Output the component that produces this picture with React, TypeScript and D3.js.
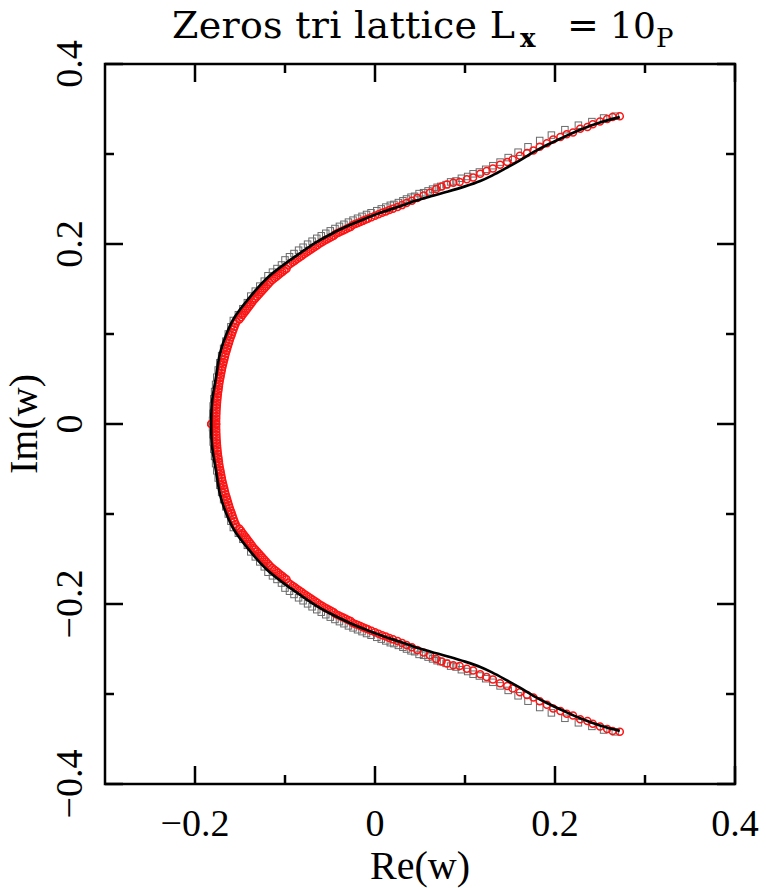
import React, { useEffect, useRef } from 'react';
import * as d3 from 'd3';

// upper half (Im > 0); lower half is the complex conjugate
const curveUpper: [number, number][] = [
  [-0.182, 0.0], [-0.181, 0.025], [-0.177, 0.05], [-0.172, 0.079], [-0.165, 0.1],
  [-0.157, 0.117], [-0.139, 0.141], [-0.12, 0.162], [-0.1, 0.178], [-0.083, 0.19],
  [-0.065, 0.202], [-0.047, 0.212], [-0.028, 0.221], [-0.009, 0.229], [0.01, 0.236],
  [0.028, 0.242], [0.045, 0.248], [0.062, 0.253], [0.08, 0.258], [0.1, 0.264],
  [0.117, 0.27], [0.13, 0.276], [0.145, 0.284], [0.161, 0.293], [0.176, 0.302],
  [0.191, 0.31], [0.21, 0.319], [0.228, 0.327], [0.25, 0.335], [0.272, 0.341],
];

const circlesUpper: [number, number][] = [
  [-0.182, 0.0],
  [-0.1765, 0.0], [-0.1765, 0.003], [-0.1764, 0.006], [-0.1764, 0.009], [-0.1762, 0.012],
  [-0.1761, 0.015], [-0.1759, 0.018], [-0.1757, 0.021], [-0.1755, 0.024], [-0.1752, 0.027],
  [-0.1749, 0.03], [-0.1746, 0.033], [-0.1742, 0.036], [-0.1738, 0.039], [-0.1734, 0.042],
  [-0.173, 0.045], [-0.1725, 0.048], [-0.1719, 0.051], [-0.1714, 0.054], [-0.1708, 0.057],
  [-0.1702, 0.06], [-0.1696, 0.063], [-0.1689, 0.066], [-0.1682, 0.069], [-0.1674, 0.072],
  [-0.1667, 0.075], [-0.1659, 0.078], [-0.165, 0.081], [-0.1642, 0.084], [-0.1633, 0.087],
  [-0.1623, 0.09], [-0.1614, 0.093], [-0.1604, 0.096], [-0.1593, 0.099], [-0.1583, 0.102],
  [-0.1572, 0.105], [-0.1561, 0.108], [-0.1549, 0.111], [-0.1538, 0.114],
  [-0.1508, 0.1161], [-0.1488, 0.1185], [-0.1472, 0.1211], [-0.1454, 0.1233], [-0.1436, 0.1257],
  [-0.1418, 0.1281], [-0.14, 0.1305], [-0.1382, 0.1329], [-0.1364, 0.1353], [-0.1346, 0.1377],
  [-0.133, 0.1395], [-0.131, 0.1417], [-0.129, 0.1439], [-0.127, 0.1461], [-0.125, 0.1483],
  [-0.123, 0.1505], [-0.121, 0.1527], [-0.119, 0.1549], [-0.117, 0.1571],
  [-0.1144, 0.1597], [-0.1121, 0.1616], [-0.1098, 0.1634], [-0.1075, 0.1653], [-0.1052, 0.1671],
  [-0.1029, 0.1689], [-0.1006, 0.1708], [-0.0983, 0.1726],
  [-0.0965, 0.1762], [-0.094, 0.178], [-0.0915, 0.1797], [-0.089, 0.1815], [-0.0865, 0.1833],
  [-0.084, 0.185], [-0.0815, 0.1868],
  [-0.079, 0.1887], [-0.0765, 0.1903], [-0.074, 0.192], [-0.0715, 0.1937], [-0.069, 0.1953],
  [-0.0665, 0.197], [-0.064, 0.1987],
  [-0.0614, 0.2006], [-0.0588, 0.202], [-0.0562, 0.2035], [-0.0536, 0.2049], [-0.051, 0.2064],
  [-0.0484, 0.2078], [-0.0458, 0.2092],
  [-0.0433, 0.2113], [-0.0406, 0.2126], [-0.0379, 0.2139], [-0.0352, 0.2151], [-0.0325, 0.2164],
  [-0.0298, 0.2177], [-0.0271, 0.219],
  [-0.0247, 0.221], [-0.0219, 0.2222], [-0.0191, 0.2233], [-0.0163, 0.2245], [-0.0135, 0.2257],
  [-0.0107, 0.2269], [-0.0079, 0.2281],
  [-0.004, 0.2298], [0.0, 0.2314], [0.004, 0.233], [0.008, 0.2346], [0.012, 0.2362],
  [0.016, 0.2377], [0.02, 0.2393], [0.025, 0.2412], [0.03, 0.2432], [0.035, 0.2455],
  [0.041, 0.248], [0.047, 0.251], [0.054, 0.254], [0.061, 0.257], [0.068, 0.261],
  [0.074, 0.264], [0.08, 0.266], [0.087, 0.268], [0.094, 0.269], [0.102, 0.272],
  [0.109, 0.274], [0.117, 0.278], [0.124, 0.281], [0.131, 0.284], [0.139, 0.288],
  [0.147, 0.291], [0.153, 0.294], [0.161, 0.298], [0.169, 0.301], [0.176, 0.304],
  [0.183, 0.308], [0.191, 0.312], [0.198, 0.316], [0.206, 0.319], [0.213, 0.322],
  [0.22, 0.324], [0.228, 0.328], [0.236, 0.33], [0.242, 0.333], [0.25, 0.336],
  [0.258, 0.339], [0.264, 0.341], [0.272, 0.342],
];

const squaresUpper: [number, number][] = [
  [-0.1805, 0.004], [-0.1802, 0.012], [-0.1798, 0.02], [-0.1791, 0.028], [-0.1782, 0.036],
  [-0.1771, 0.044], [-0.1758, 0.052], [-0.1742, 0.06], [-0.1724, 0.068], [-0.1704, 0.076],
  [-0.1682, 0.084], [-0.1657, 0.092], [-0.163, 0.1], [-0.1601, 0.108], [-0.1574, 0.115],
  [-0.1518, 0.1214], [-0.1468, 0.1281], [-0.1418, 0.1348],
  [-0.138, 0.1421], [-0.133, 0.1476], [-0.128, 0.1532], [-0.123, 0.1587],
  [-0.1189, 0.1647], [-0.1139, 0.1687], [-0.1089, 0.1727], [-0.1039, 0.1767],
  [-0.1, 0.1823], [-0.095, 0.1858], [-0.09, 0.1894],
  [-0.0849, 0.1931], [-0.0799, 0.1964], [-0.0749, 0.1998], [-0.0699, 0.2031],
  [-0.0647, 0.2063], [-0.0597, 0.2091], [-0.0547, 0.2119], [-0.0497, 0.2146],
  [-0.0445, 0.2172], [-0.0395, 0.2196], [-0.0345, 0.2219], [-0.0295, 0.2243],
  [-0.0244, 0.2265], [-0.0194, 0.2286], [-0.0144, 0.2307], [-0.0094, 0.2328], [-0.0044, 0.2347],
  [0.002, 0.237], [0.007, 0.239], [0.012, 0.241], [0.017, 0.243], [0.021, 0.244],
  [0.026, 0.246], [0.031, 0.248], [0.035, 0.25], [0.04, 0.252], [0.044, 0.253],
  [0.049, 0.256], [0.054, 0.257], [0.059, 0.259], [0.064, 0.261], [0.069, 0.263],
  [0.073, 0.264], [0.079, 0.266], [0.084, 0.269], [0.09, 0.27], [0.096, 0.273],
  [0.103, 0.275], [0.109, 0.278], [0.116, 0.28], [0.123, 0.283], [0.131, 0.287],
  [0.139, 0.291], [0.148, 0.296], [0.159, 0.302], [0.17, 0.308], [0.183, 0.315],
  [0.196, 0.321], [0.211, 0.327], [0.226, 0.332], [0.241, 0.336], [0.254, 0.34],
  [0.267, 0.342],
];

const xMajor = [-0.2, 0, 0.2, 0.4];
const xMinor = [-0.1, 0.1, 0.3];
const yMajor = [-0.4, -0.2, 0, 0.2, 0.4];
const yMinor = [-0.3, -0.1, 0.1, 0.3];

const conj = (pts: [number, number][]) => pts.map(([a, b]) => [a, -b] as [number, number]);
const fmt = (v: number) => (v === 0 ? '0' : (v < 0 ? '\u2212' : '') + Math.abs(v).toFixed(1));

const App = () => {
  const ref = useRef<SVGSVGElement>(null);

  useEffect(() => {
    const svg = d3.select(ref.current);
    svg.selectAll('*').remove();

    const W = 766, H = 888;
    const margin = { top: 64, right: 31, bottom: 104, left: 105 };
    const x = d3.scaleLinear().domain([-0.3, 0.4]).range([margin.left, W - margin.right]);
    const y = d3.scaleLinear().domain([-0.4, 0.4]).range([H - margin.bottom, margin.top]);
    const font = '"Liberation Serif", serif';
    const tfont = '"DejaVu Serif", serif';

    // squares
    const sq = 6.5;
    const squares = squaresUpper.concat(conj(squaresUpper));
    svg.append('g').selectAll('rect').data(squares).enter().append('rect')
      .attr('x', d => x(d[0]) - sq / 2)
      .attr('y', d => y(d[1]) - sq / 2)
      .attr('width', sq).attr('height', sq)
      .attr('fill', 'none').attr('stroke', '#6a6a6a').attr('stroke-width', 1);

    // circles
    const circles = circlesUpper.concat(conj(circlesUpper));
    svg.append('g').selectAll('circle').data(circles).enter().append('circle')
      .attr('cx', d => x(d[0]))
      .attr('cy', d => y(d[1]))
      .attr('r', 3.5)
      .attr('fill', 'none').attr('stroke', '#ff1414').attr('stroke-width', 1.5);

    // curve
    const full = conj(curveUpper).reverse().concat(curveUpper.slice(1));
    const line = d3.line<[number, number]>().x(d => x(d[0])).y(d => y(d[1])).curve(d3.curveCatmullRom);
    svg.append('path').attr('d', line(full))
      .attr('fill', 'none').attr('stroke', 'black').attr('stroke-width', 2.7);

    // frame
    svg.append('rect')
      .attr('x', margin.left).attr('y', margin.top)
      .attr('width', W - margin.left - margin.right)
      .attr('height', H - margin.top - margin.bottom)
      .attr('fill', 'none').attr('stroke', 'black').attr('stroke-width', 2.5);

    const ticks = svg.append('g').attr('stroke', 'black').attr('stroke-width', 2.5);
    const addX = (vals: number[], len: number) => vals.forEach(v => {
      ticks.append('line').attr('x1', x(v)).attr('x2', x(v)).attr('y1', y(-0.4)).attr('y2', y(-0.4) - len);
      ticks.append('line').attr('x1', x(v)).attr('x2', x(v)).attr('y1', y(0.4)).attr('y2', y(0.4) + len);
    });
    const addY = (vals: number[], len: number) => vals.forEach(v => {
      ticks.append('line').attr('y1', y(v)).attr('y2', y(v)).attr('x1', x(-0.3)).attr('x2', x(-0.3) + len);
      ticks.append('line').attr('y1', y(v)).attr('y2', y(v)).attr('x1', x(0.4)).attr('x2', x(0.4) - len);
    });
    addX(xMajor, 18); addX(xMinor, 9);
    addY(yMajor, 18); addY(yMinor, 9);

    // tick labels
    svg.append('g').selectAll('text').data(xMajor).enter().append('text')
      .attr('x', d => x(d)).attr('y', 836)
      .attr('text-anchor', 'middle')
      .attr('font-family', font).attr('font-size', 38)
      .text(d => fmt(d));

    svg.append('g').selectAll('text').data(yMajor).enter().append('text')
      .attr('transform', d => `translate(82,${y(d)}) rotate(-90)`)
      .attr('text-anchor', 'middle')
      .attr('font-family', font).attr('font-size', 38)
      .text(d => fmt(d));

    svg.append('text')
      .attr('x', x(0.05)).attr('y', 879)
      .attr('text-anchor', 'middle')
      .attr('font-family', font).attr('font-size', 40)
      .text('Re(w)');

    svg.append('text')
      .attr('transform', `translate(37,${y(0)}) rotate(-90)`)
      .attr('text-anchor', 'middle')
      .attr('font-family', font).attr('font-size', 40)
      .text('Im(w)');

    // title
    const tg = svg.append('g').attr('font-family', tfont).attr('font-size', 38);
    tg.append('text').attr('x', 172).attr('y', 38)
      .attr('textLength', 343).attr('lengthAdjust', 'spacing')
      .text('Zeros tri lattice L');
    tg.append('text').attr('x', 520).attr('y', 47)
      .attr('font-size', 26).attr('font-weight', 'bold').text('x');
    tg.append('text').attr('x', 583).attr('y', 38).attr('text-anchor', 'middle').text('=');
    tg.append('text').attr('x', 610).attr('y', 38).attr('font-size', 36).text('10');
    tg.append('text').attr('x', 656).attr('y', 47).attr('font-size', 26).text('P');
  }, []);

  return (
    <svg ref={ref} width={766} height={888}
      style={{ position: 'absolute', left: 0, top: 0, background: 'white' }} />
  );
};

export default App;
